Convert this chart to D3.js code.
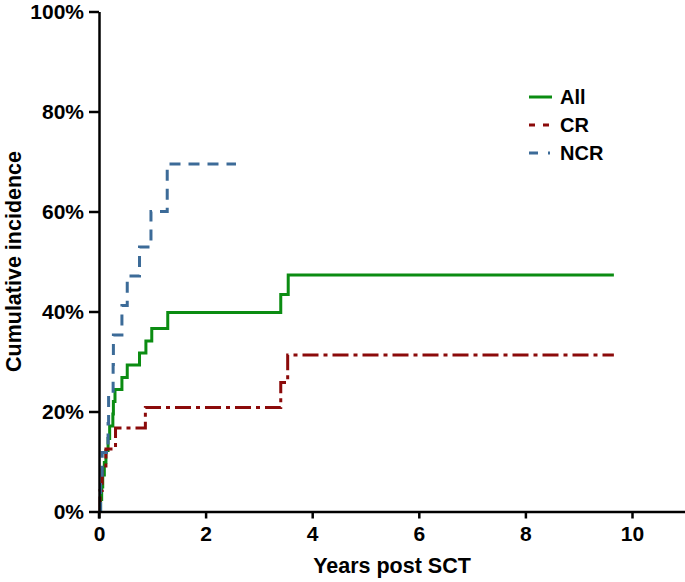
<!DOCTYPE html>
<html>
<head>
<meta charset="utf-8">
<script src="https://cdn.jsdelivr.net/npm/d3@7"></script>
<style>
  html, body { margin: 0; padding: 0; background: #fff; }
  svg { display: block; }
  text { font-family: "Liberation Sans", Arial, Helvetica, sans-serif; font-weight: bold; fill: #000; }
</style>
</head>
<body>
<svg id="chart" width="685" height="582"></svg>
<script>
// ---- data (years post SCT, cumulative incidence %) ----
const allTimes  = [0, 0.03, 0.05, 0.07, 0.10, 0.13, 0.17, 0.20, 0.26, 0.27, 0.30, 0.43, 0.53, 0.76, 0.88, 0.99, 1.29, 3.41, 3.55, 9.66];
const allValues = [0, 2.4, 4.9, 7.3, 9.8, 12.2, 14.6, 17.1, 19.5, 22.0, 24.4, 26.8, 29.3, 31.7, 34.1, 36.6, 39.8, 43.4, 47.3, 47.3];

const crTimes  = [0, 0.02, 0.06, 0.13, 0.31, 0.87, 3.41, 3.54, 9.66];
const crValues = [0, 4.2, 8.3, 12.5, 16.7, 20.8, 25.8, 31.3, 31.3];

const ncrTimes  = [0, 0.03, 0.06, 0.17, 0.18, 0.265, 0.27, 0.43, 0.53, 0.76, 0.975, 1.28, 2.57];
const ncrValues = [0, 5.9, 11.8, 17.6, 23.5, 29.4, 35.3, 41.2, 47.1, 52.9, 60.0, 69.5, 69.5];

const xTicks = [0, 2, 4, 6, 8, 10];
const yTicks = [0, 20, 40, 60, 80, 100];
const seriesNames = ["All", "CR", "NCR"];

// ---- layout ----
const svg = d3.select("#chart");
const x = d3.scaleLinear().domain([0, 11]).range([99, 99 + 53.3 * 11]);
const y = d3.scaleLinear().domain([0, 100]).range([511.5, 11.5]);

const series = [
  { name: "All", times: allTimes, values: allValues, color: "#0b8c12", dash: null, legendDash: null },
  { name: "CR", times: crTimes, values: crValues, color: "#8b0a0a", dash: "16 5 4 5", legendDash: "6 8" },
  { name: "NCR", times: ncrTimes, values: ncrValues, color: "#3c6b98", dash: "11 8", legendDash: "9 10 2 10" }
];

const line = d3.line()
  .x(d => x(d[0]))
  .y(d => y(d[1]))
  .curve(d3.curveStepAfter);

// curves
series.forEach(s => {
  const pts = s.times.map((t, i) => [t, s.values[i]]);
  svg.append("path")
    .attr("d", line(pts))
    .attr("fill", "none")
    .attr("stroke", s.color)
    .attr("stroke-width", 3)
    .attr("stroke-dasharray", s.dash);
});

// axes
const xAxis = svg.append("g")
  .attr("transform", `translate(0,${y(0)})`)
  .call(d3.axisBottom(x).tickValues(xTicks).tickFormat(d3.format("d")).tickSize(7).tickSizeOuter(0).tickPadding(8));
const yAxis = svg.append("g")
  .attr("transform", `translate(${x(0)},0)`)
  .call(d3.axisLeft(y).tickValues(yTicks).tickFormat(d => d + "%").tickSize(10).tickSizeOuter(0).tickPadding(5));

[xAxis, yAxis].forEach(g => {
  g.select(".domain").attr("stroke", "#000").attr("stroke-width", 2.5);
  g.selectAll(".tick line").attr("stroke", "#000").attr("stroke-width", 2.5);
  g.selectAll(".tick text").attr("font-size", 21).attr("fill", "#000")
    .attr("font-family", "'Liberation Sans', Arial, sans-serif").attr("font-weight", "bold");
});
// extend y axis slightly below x axis (cross at origin)
svg.append("line").attr("x1", x(0)).attr("x2", x(0)).attr("y1", y(0)).attr("y2", y(0) + 7)
  .attr("stroke", "#000").attr("stroke-width", 2.5);

// axis titles
svg.append("text")
  .attr("x", (x(0) + 685) / 2).attr("y", 573)
  .attr("text-anchor", "middle").attr("font-size", 21.5)
  .text("Years post SCT");
svg.append("text")
  .attr("transform", `translate(21,${y(50)}) rotate(-90)`)
  .attr("text-anchor", "middle").attr("font-size", 21.5)
  .text("Cumulative incidence");

// legend
const legend = svg.append("g");
series.forEach((s, i) => {
  const cy = 97 + i * 28;
  legend.append("line")
    .attr("x1", 529).attr("x2", 552).attr("y1", cy).attr("y2", cy)
    .attr("stroke", s.color).attr("stroke-width", 3)
    .attr("stroke-dasharray", s.legendDash);
  legend.append("text")
    .attr("x", 560).attr("y", cy).attr("dy", "0.36em")
    .attr("font-size", 20)
    .text(seriesNames[i]);
});
</script>
</body>
</html>
